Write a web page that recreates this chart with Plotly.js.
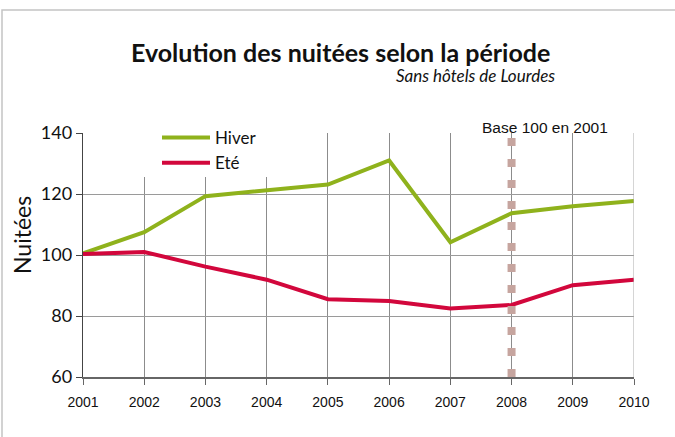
<!DOCTYPE html>
<html><head><meta charset="utf-8">
<script src="https://cdn.plot.ly/plotly-3.0.1.min.js"></script>
<style>html,body{margin:0;padding:0;background:#fff}#chart{width:675px;height:437px}</style>
</head><body><div id="chart"></div>
<script>
const years = [2001, 2002, 2003, 2004, 2005, 2006, 2007, 2008, 2009, 2010];
const hiver = [100.5, 107.5, 119.3, 121.2, 123.1, 131.0, 104.2, 113.7, 116.0, 117.7];
const ete   = [100.3, 101.0, 96.2, 91.9, 85.5, 84.9, 82.5, 83.6, 90.1, 91.9];
const baseYear = 2008;
const yTicks = [60, 80, 100, 120, 140];

const W = 675, H = 437, L = 83, R = 41, T = 133, B = 60;
const pw = W - L - R, ph = H - T - B;
const px = v => (v - L) / pw;
const py = v => (H - B - v) / ph;
const gill = 'Lato, "Open Sans", sans-serif';

const traces = [
  {x: years, y: hiver, name: 'Hiver', type: 'scatter', mode: 'lines',
   line: {color: '#8fb21c', width: 4}},
  {x: years, y: ete, name: 'Eté', type: 'scatter', mode: 'lines',
   line: {color: '#d2073c', width: 4}}
];

const layout = {
  width: W, height: H,
  margin: {l: L, r: R, t: T, b: B},
  paper_bgcolor: '#fff', plot_bgcolor: '#fff',
  showlegend: true,
  legend: {x: px(157), y: py(120), xanchor: 'left', yanchor: 'top',
    bgcolor: 'rgba(255,255,255,0)', borderwidth: 0, itemwidth: 48, tracegroupgap: 0,
    font: {family: gill, size: 17, color: '#111'}},
  xaxis: {range: [2001, 2010], tickvals: years, ticktext: years.map(String),
    showgrid: true, gridcolor: '#8c8c8c', gridwidth: 1,
    showline: true, linecolor: '#666', linewidth: 1.5,
    ticks: 'outside', ticklen: 6, tickcolor: '#666', ticklabelstandoff: 6,
    tickfont: {family: '"Liberation Sans", Arial, sans-serif', size: 14, color: '#111'},
    zeroline: false, fixedrange: true},
  yaxis: {range: [60, 140], tickvals: yTicks,
    showgrid: true, gridcolor: '#9a9a9a', gridwidth: 1,
    showline: true, linecolor: '#444', linewidth: 1.2,
    ticks: 'outside', ticklen: 6, tickcolor: '#444',
    tickfont: {family: gill, size: 18, color: '#111'},
    zeroline: false, fixedrange: true},
  shapes: [
    {type: 'rect', xref: 'paper', yref: 'paper', layer: 'above',
     x0: px(118), x1: px(292), y0: py(177), y1: py(126),
     line: {width: 0}, fillcolor: '#fff'},
    {type: 'line', xref: 'x', yref: 'y', x0: baseYear, x1: baseYear, y0: 60, y1: 140,
     line: {color: '#c6a59f', width: 8, dash: '8px,13px'}},
    {type: 'line', xref: 'x', yref: 'paper', x0: 2010, x1: 2010, y0: 0, y1: 1,
     line: {color: '#aaa', width: 1}},
    {type: 'rect', xref: 'paper', yref: 'paper', x0: px(2), x1: px(676), y0: py(438), y1: py(10),
     line: {color: '#c4c4c4', width: 1.5}, fillcolor: 'rgba(0,0,0,0)'}
  ],
  annotations: [
    {text: '<b>Evolution des nuitées selon la période</b>', xref: 'paper', yref: 'paper',
     x: px(340), y: py(52), xanchor: 'center', yanchor: 'middle', showarrow: false,
     font: {family: gill, size: 25, color: '#111'}},
    {text: '<i>Sans hôtels de Lourdes</i>', xref: 'paper', yref: 'paper',
     x: px(557), y: py(75), xanchor: 'right', yanchor: 'middle', showarrow: false,
     font: {family: gill, size: 17, color: '#111'}},
    {text: 'Base 100 en 2001', xref: 'paper', yref: 'paper',
     x: px(545), y: py(127), xanchor: 'center', yanchor: 'middle', showarrow: false,
     font: {family: '"Liberation Sans", Arial, sans-serif', size: 15.5, color: '#111'}},
    {text: 'Nuitées', xref: 'paper', yref: 'paper', textangle: -90,
     x: px(22), y: py(235), xanchor: 'center', yanchor: 'middle', showarrow: false,
     font: {family: gill, size: 23, color: '#111'}}
  ]
};

Plotly.newPlot('chart', traces, layout, {displayModeBar: false, staticPlot: true});
</script>
</body></html>
